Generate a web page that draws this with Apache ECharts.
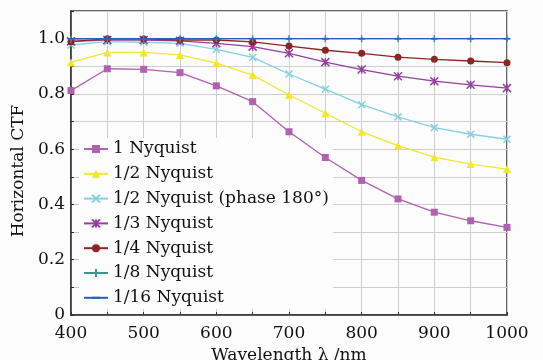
<!DOCTYPE html>
<html><head><meta charset="utf-8">
<script src="https://cdn.jsdelivr.net/npm/echarts@6/dist/echarts.min.js"></script>
<style>html,body{margin:0;padding:0;background:#fcfcfc}#c{width:543px;height:360px}</style>
</head><body><div id="c"></div>
<script>
const wavelengths = [400,450,500,550,600,650,700,750,800,850,900,950,1000];
const seriesNames = ['1 Nyquist','1/2 Nyquist','1/2 Nyquist (phase 180°)','1/3 Nyquist','1/4 Nyquist','1/8 Nyquist','1/16 Nyquist'];
const nyq1   = [0.812,0.891,0.889,0.877,0.829,0.772,0.663,0.570,0.487,0.420,0.372,0.341,0.317];
const nyq2   = [0.914,0.950,0.950,0.941,0.911,0.868,0.797,0.730,0.663,0.613,0.571,0.546,0.528];
const nyq2p  = [0.977,0.989,0.987,0.983,0.961,0.932,0.872,0.817,0.761,0.717,0.678,0.654,0.636];
const nyq3   = [0.990,0.995,0.995,0.992,0.983,0.971,0.947,0.915,0.888,0.864,0.846,0.833,0.821];
const nyq4   = [0.989,1.000,0.999,0.995,0.995,0.988,0.973,0.958,0.947,0.933,0.925,0.919,0.913];
const nyq8   = [0.998,1.000,1.000,1.000,1.000,1.000,1.000,1.000,1.000,1.000,1.000,1.000,1.000];
const nyq16  = [1.000,1.000,1.000,1.000,1.000,1.000,1.000,1.000,1.000,1.000,1.000,1.000,1.000];
const yTickLabels = ['0','0.2','0.4','0.6','0.8','1.0'];

const allData = [nyq1,nyq2,nyq2p,nyq3,nyq4,nyq8,nyq16];
const colors = ['#b062b0','#f2e630','#82d2e2','#93409f','#8e2424','#3a9490','#2a5cb8'];
const symbols = [
  'rect','triangle','path://M0,0L10,10M0,10L10,0','path://M0,0L10,10M0,10L10,0M5,0L5,10',
  'circle','path://M5,0L5,10M0,5L10,5','path://M0,0M0,5L10,5M10,10'
];
const sizes = [7,8,7,8,7,7,6];
const font = 'DejaVu Serif';

const series = seriesNames.map((n,i)=>({
  name:n, type:'line', data: wavelengths.map((w,j)=>[w, allData[i][j]]),
  symbol: symbols[i], symbolSize: sizes[i], showSymbol:true,
  lineStyle:{color:colors[i], width:1.3},
  itemStyle:{color:colors[i], borderColor:colors[i], borderWidth: symbols[i].startsWith('path')?1.5:0},
  z: 3+i
}));

const chart = echarts.init(document.getElementById('c'), null, {renderer:'canvas'});
chart.setOption({
  backgroundColor:'#fcfcfc',
  animation:false,
  grid:{left:71,right:36,top:11,bottom:45,containLabel:false,outerBoundsMode:'none',
        show:true,borderColor:'#333',borderWidth:1.5,backgroundColor:'transparent'},
  legend:{
    orient:'vertical', left:79, top:138, itemWidth:24, itemHeight:10, itemGap:6.8, z:1,
    backgroundColor:'#fcfcfc', padding:[2,4,2,4],
    textStyle:{fontFamily:font, fontSize:17, color:'#111', lineHeight:18},
    data: seriesNames
  },
  xAxis:{
    type:'value', min:400, max:1000, interval:50,
    name:'Wavelength \u03bb /nm', nameLocation:'middle', nameGap:32,
    nameTextStyle:{fontFamily:font, fontSize:17, color:'#111'},
    axisLine:{lineStyle:{color:'#333',width:1.5}},
    axisTick:{show:true, inside:true, length:3, lineStyle:{color:'#333'}},
    axisLabel:{fontFamily:font, fontSize:17, color:'#111', margin:10,
      formatter:v=> (v%100===0? String(v):'')},
    splitLine:{show:true, lineStyle:{color:'#cfcfcf', width:1}}
  },
  yAxis:{
    type:'value', min:0, max:1.1, interval:0.1,
    name:'Horizontal CTF', nameLocation:'middle', nameGap:35,
    nameTextStyle:{fontFamily:font, fontSize:17, color:'#111', padding:[0,16,0,0]},
    axisLine:{lineStyle:{color:'#333',width:1.5}},
    axisTick:{show:true, inside:true, length:3, lineStyle:{color:'#333'}},
    axisLabel:{fontFamily:font, fontSize:17, color:'#111', margin:6,
      formatter:v=>{ const k=Math.round(v*10); return (k%2===0 && k<=10)? yTickLabels[k/2] : ''; }},
    splitLine:{show:true, lineStyle:{color:'#cfcfcf', width:1}}
  },
  series: series
});
</script></body></html>
